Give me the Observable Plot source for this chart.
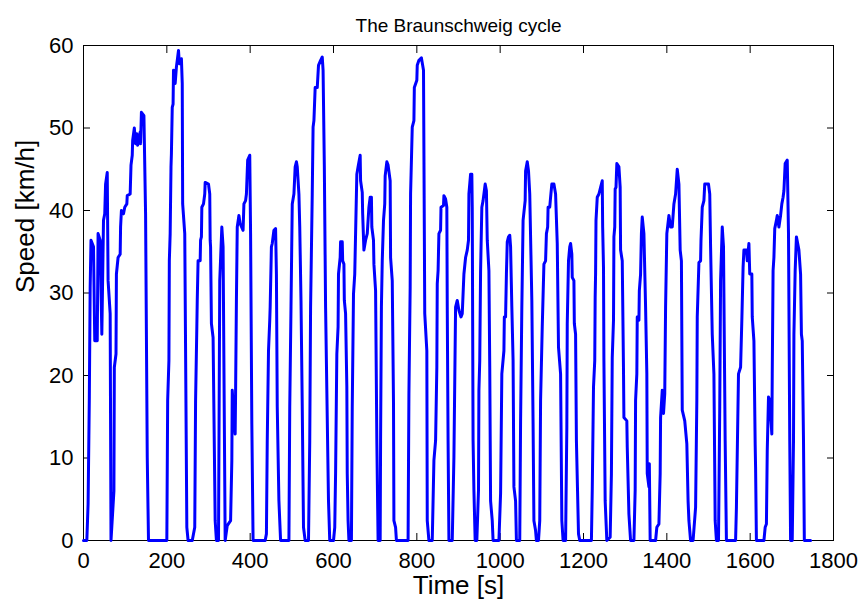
<!DOCTYPE html>
<html><head><meta charset="utf-8">
<script src="https://cdn.jsdelivr.net/npm/d3@7"></script>
<script src="https://cdn.jsdelivr.net/npm/@observablehq/plot@0.6"></script>
<style>body{margin:0;background:#fff}</style>
</head><body><div id="chart"></div>
<script>
const title = "The Braunschweig cycle";
const xLabel = "Time [s]";
const yLabel = "Speed [km/h]";
const xTicks = [0, 200, 400, 600, 800, 1000, 1200, 1400, 1600, 1800];
const yTicks = [0, 10, 20, 30, 40, 50, 60];

const time = [0,8,11,14,16,18,24,27,33,35,40,44,48,51,53,57,59,64,66,73,74,78,79,83,88,89,91,96,99,104,105,112,114,117,118,122,125,128,130,136,137,139,145,149,153,156,
200,202,205,206,208,210,211,213,215,216,220,223,225,228,230,235,237,238,243,248,251,261,267,269,272,273,275,280,281,283,284,288,291,292,300,303,304,305,307,311,316,319,
324,327,332,335,340,345,353,356,357,359,364,365,367,369,373,376,383,385,389,391,394,399,401,404,407,436,439,441,444,447,448,451,453,457,461,463,465,469,473,
493,495,498,501,505,508,511,513,517,519,522,525,528,532,540,543,545,549,551,553,556,561,564,569,573,575,578,581,588,591,
600,603,605,608,611,612,616,617,621,622,625,626,629,632,633,635,637,643,645,648,651,653,656,659,664,665,669,670,673,677,681,685,688,691,692,696,697,701,704,707,
712,713,715,717,720,723,724,728,731,736,737,741,744,745,749,751,779,781,784,785,789,793,794,800,801,805,811,816,819,824,825,829,
837,841,845,848,849,851,853,857,858,864,865,869,872,873,875,877,885,889,893,897,901,906,909,913,917,921,924,925,929,932,933,935,937,940,
944,948,949,951,953,956,959,964,967,969,973,975,977,981,983,997,1001,1004,1009,1010,1013,1015,1017,1020,1023,1025,1028,1031,1033,1037,1039,
1047,1049,1052,1055,1060,1061,1065,1068,1071,1076,1079,1081,1085,1087,1092,1095,1097,1101,1105,1109,1111,1114,1115,1119,1121,1124,1129,1133,1137,1140,1145,1148,1151,
1157,1160,1161,1164,1167,1169,1172,1173,1177,1178,1181,1183,1188,1191,1219,1221,1224,1227,1228,1229,1230,1233,1237,1241,1245,1246,1248,1249,1252,1256,
1264,1267,1269,1272,1273,1275,1276,1278,1280,1285,1288,1289,1293,1296,1297,1304,1305,1309,1313,1321,1324,1325,1328,1329,1333,1334,1337,1339,1341,1345,1349,1352,1353,1357,1358,1360,
1373,1376,1381,1384,1385,1389,1392,1395,1397,1400,1405,1409,1413,1417,1421,1425,1429,1432,1435,1437,1443,1448,1451,1453,1457,
1463,1469,1472,1473,1477,1481,1482,1485,1489,1491,1500,1503,1505,1509,1513,1516,1519,1524,1527,1529,1533,1536,1540,1543,
1565,1567,1572,1577,1580,1583,1585,1591,1593,1597,1599,1604,1605,1609,1612,1613,1615,1633,1636,1639,1641,1644,1647,1652,1653,1655,1657,1659,1663,1665,1669,1673,1676,1679,1681,1684,1689,1692,1695,1697,
1701,1704,1705,1708,1711,1717,1721,1723,1725,1728,1730,1745];

const speed = [0,0,4.4,17.4,30.7,36.4,35.6,24.2,24.2,37.2,36.4,25,38.8,39.6,43.2,44.6,31.5,27.5,0,6,21,22.6,32.3,34.3,34.7,38,40,39.6,40.4,40.8,41.8,42,45.5,46.7,48.5,50,48.1,49.3,47.9,49.5,48.1,51.9,51.5,39.6,10.1,0,
0,17,21.8,33.9,37.2,45.3,46.9,52.5,52.9,57,55.4,57.4,58.2,59.4,57.8,58.4,55.4,40.8,37.2,1.6,0,0,1.6,17,25.9,29.1,33.9,33.9,36.4,36.8,40.4,40.8,42,43.4,43.2,42,36.4,35.6,26.3,24.6,2.4,0,
0,31.5,38,35.6,0,1.8,2.4,9.7,18.2,16.6,12.9,17.8,29.1,38,39.4,38.4,37.6,40.8,41.2,42,46.1,46.7,37.2,14.1,0,0,0.8,12.1,23,26.7,28.3,35.6,36,37.6,37.8,32.3,16.2,4.8,0,
0,16.2,28.3,40.8,42,45.3,45.9,45.3,42,38,29.1,16.2,1.6,0,0,12.1,28.3,42,50.1,50.9,54.9,54.9,57.6,58.2,58.6,57,45.3,28.3,4.8,0,
0,1.6,8.1,22.6,25.9,32.3,34.3,36.2,36.2,33.9,33.5,29.1,27.5,18.6,8.1,2.4,0,0,16.2,29.9,32.3,37.2,44.4,45.3,46.7,43.6,42.2,39.6,35.2,36.4,37.2,40.4,41.6,41.6,38,36.4,33.5,30.3,12.1,0,
0,12.1,28.3,33.9,38.8,40.8,44.2,45.9,45.5,43.6,34.3,31.5,16.6,2.4,1.6,0,0,17.8,30.7,42,50.1,50.9,54.9,55.8,57.6,58.2,58.5,57,27.5,23,2.4,0,
0,9.7,12.1,21,31.1,32.7,37.2,37.6,40.4,40.6,41.8,41.4,40.4,28.3,12.1,0,0,10.1,28.3,29.1,27.9,27.1,27.5,32.3,34.3,35.2,36.4,42,44.4,44.4,40.4,12.1,6.1,0,
0,6.1,18.2,21.8,32.7,40.4,41.2,43.2,42.4,36.4,32.7,21,4.8,2.4,0,0,5.7,20.2,23,27.1,27.1,32.3,36.2,36.8,37,35.6,28.3,21.8,6.5,4.8,0,
0,14.5,28.3,38.8,41.2,44.8,45.9,44.8,42,29.1,14.1,2.4,1.2,0,0,2.4,17,25.9,33.5,33.9,37.2,38,40.4,40.4,41.6,43.2,43.2,42,36,23.4,20.2,2.4,0,
0,13.7,26.3,33.9,35.6,36,34.7,31.9,31.5,26.3,25,12.1,0.8,0,0,6.1,18.6,21.8,29.5,32.3,38.8,41.6,42,42.8,43.6,38,33.1,21.8,4.8,0,
0.4,8.1,22.2,26.7,36.8,38,42.6,42.8,45.7,45.3,42.8,35.2,33.9,20.6,14.9,14.5,11.3,3.2,0,0,6.1,17,20.2,27.1,26.7,30.3,32.3,37.2,39.2,37.2,28.3,20.2,8.1,6.5,9.3,0,
0,1.6,2,8.1,14.9,18.2,15.4,17.8,28.3,37.2,39.4,38,38,40.8,42,45,43.2,35.2,33.9,15.8,14.5,11.7,4.8,2.4,0,
0,4,17,27.1,33.7,33.9,36.4,40.4,41.2,43.2,43.2,42,35.6,25,20.2,2.4,0,0,16.2,31.5,38,35.6,12.1,0,
0,4,20.2,21,26.7,33.1,35.2,35.2,33.9,36,32.3,32.3,27.1,24.2,11.7,8.9,0,0,1.6,2,10.9,17.4,17,12.9,20.2,32.7,34.3,37.8,38.8,39.4,38,39.4,40.8,41.6,42.4,45.7,46.1,37.2,12.1,0,
0,12.1,25,32.7,36.8,35.2,32.3,25,24.2,12.1,0,0];

const data = time.map((t, i) => ({t, v: speed[i]}));
const font = "'Liberation Sans', Arial, Helvetica, sans-serif";

const chart = Plot.plot({
  width: 865, height: 609,
  marginLeft: 83, marginRight: 32, marginTop: 45, marginBottom: 69,
  style: {fontFamily: font, fontSize: "22px", background: "#fff", color: "#000"},
  x: {domain: [0, 1800]},
  y: {domain: [0, 60]},
  marks: [
    Plot.frame({stroke: "#000", strokeWidth: 1}),
    Plot.axisX({anchor: "bottom", ticks: xTicks, tickSize: -7, tickFormat: () => "", label: null}),
    Plot.axisX({anchor: "top", ticks: xTicks, tickSize: -7, tickFormat: () => "", label: null}),
    Plot.axisY({anchor: "left", ticks: yTicks, tickSize: -7, tickFormat: () => "", label: null}),
    Plot.axisY({anchor: "right", ticks: yTicks, tickSize: -7, tickFormat: () => "", label: null}),
    Plot.axisX({anchor: "bottom", ticks: xTicks, tickSize: 0, tickPadding: 12, tickFormat: d => String(d), label: null, fontSize: 22}),
    Plot.axisY({anchor: "left", ticks: yTicks, tickSize: 0, tickPadding: 10, tickFormat: d => String(d), label: null, fontSize: 22}),
    Plot.line(data, {x: "t", y: "v", stroke: "#0000ff", strokeWidth: 3}),
    Plot.text([title], {frameAnchor: "top", dy: -27, fontSize: 19}),
    Plot.text([xLabel], {frameAnchor: "bottom", dy: 53, fontSize: 26}),
    Plot.text([yLabel], {frameAnchor: "left", dx: -58, rotate: -90, fontSize: 26})
  ]
});
document.getElementById("chart").appendChild(chart);
</script>
</body></html>
